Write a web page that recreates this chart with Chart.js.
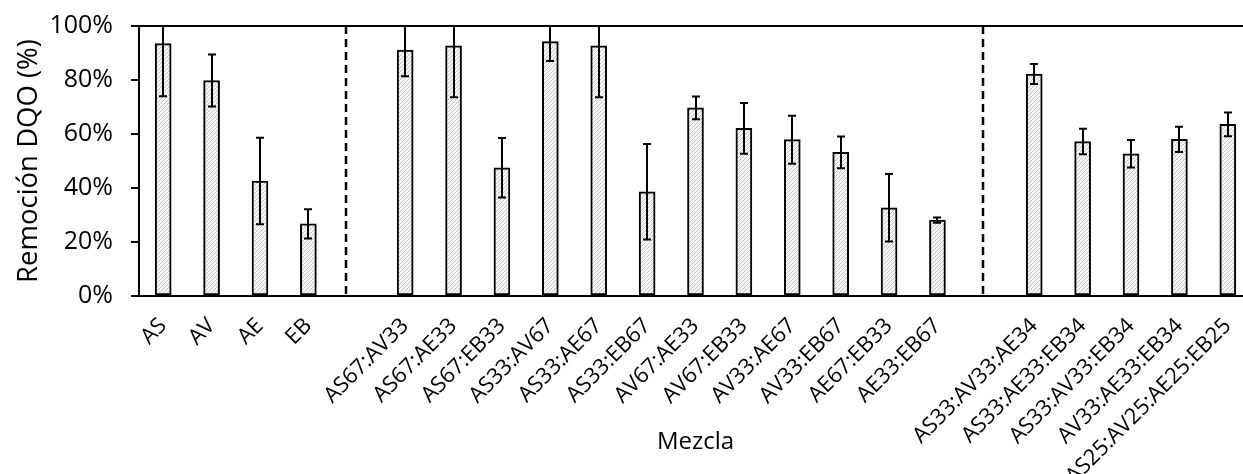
<!DOCTYPE html>
<html>
<head>
<meta charset="utf-8">
<script src="https://cdn.jsdelivr.net/npm/chart.js@4.4.1/dist/chart.umd.min.js"></script>
<style>
  html, body { margin: 0; padding: 0; background: #fff; overflow: hidden; }
  #wrap { width: 1243px; height: 474px; overflow: hidden; position: relative; }
  canvas { display: block; }
</style>
</head>
<body>
<div id="wrap"><canvas id="c" width="1262" height="474"></canvas></div>
<script>
// Mezclas (empty strings leave a gap between groups)
const mezclas = [
  'AS', 'AV', 'AE', 'EB', '',
  'AS67:AV33', 'AS67:AE33', 'AS67:EB33', 'AS33:AV67', 'AS33:AE67', 'AS33:EB67',
  'AV67:AE33', 'AV67:EB33', 'AV33:AE67', 'AV33:EB67', 'AE67:EB33', 'AE33:EB67', '',
  'AS33:AV33:AE34', 'AS33:AE33:EB34', 'AS33:AV33:EB34', 'AV33:AE33:EB34', 'AS25:AV25:AE25:EB25'
];

// Remoción DQO (%) per mezcla
const remocion = [
  93.5, 79.8, 42.6, 26.7, null,
  91.1, 92.7, 47.5, 94.2, 92.7, 38.6,
  69.7, 62.1, 57.9, 53.2, 32.7, 28.1, null,
  82.2, 57.2, 52.7, 58.0, 63.6
];

// Standard deviation (± %) per mezcla
const desviacion = [
  19.5, 9.6, 16.0, 5.4, null,
  9.7, 19.1, 11.0, 7.2, 19.1, 17.7,
  4.2, 9.4, 8.9, 5.9, 12.5, 1.0, null,
  3.7, 4.7, 5.1, 4.7, 4.4
];

// Group dividers, in category units
const divisiones = [3.78, 16.94];

const yTicks = [0, 20, 40, 60, 80, 100];

// Diagonal hatch fill for the bars
function hatch() {
  const s = 4;
  const p = document.createElement('canvas');
  p.width = s; p.height = s;
  const g = p.getContext('2d');
  g.fillStyle = '#f5f5f5';
  g.fillRect(0, 0, s, s);
  g.strokeStyle = '#c6c6c6';
  g.lineWidth = 1;
  g.beginPath();
  g.moveTo(0, s); g.lineTo(s, 0);
  g.moveTo(-1, 1); g.lineTo(1, -1);
  g.moveTo(s - 1, s + 1); g.lineTo(s + 1, s - 1);
  g.stroke();
  return document.getElementById('c').getContext('2d').createPattern(p, 'repeat');
}

const FONT = "'Open Sans', sans-serif";

const errorBars = {
  id: 'errorBars',
  afterDatasetsDraw(chart) {
    const { ctx, chartArea, scales: { y } } = chart;
    const meta = chart.getDatasetMeta(0);
    ctx.save();
    ctx.beginPath();
    ctx.rect(chartArea.left, chartArea.top - 1, chartArea.right - chartArea.left, chartArea.bottom - chartArea.top + 2);
    ctx.clip();
    ctx.strokeStyle = '#000';
    ctx.lineWidth = 2;
    const cap = 4;
    remocion.forEach((v, i) => {
      if (v == null) return;
      const e = desviacion[i];
      const x = Math.round(meta.data[i].x);
      const hi = v + e, lo = v - e;
      const yHi = y.getPixelForValue(Math.min(hi, 100));
      const yLo = y.getPixelForValue(lo);
      ctx.beginPath();
      ctx.moveTo(x, yHi); ctx.lineTo(x, yLo);
      if (hi <= 100) { ctx.moveTo(x - cap, yHi); ctx.lineTo(x + cap, yHi); }
      ctx.moveTo(x - cap, yLo); ctx.lineTo(x + cap, yLo);
      ctx.stroke();
    });
    ctx.restore();
  }
};

const dividers = {
  id: 'dividers',
  afterDatasetsDraw(chart) {
    const { ctx, chartArea, scales: { x } } = chart;
    ctx.save();
    ctx.strokeStyle = '#000';
    ctx.lineWidth = 2.5;
    ctx.setLineDash([8, 5]);
    divisiones.forEach(d => {
      const px = Math.round(x.getPixelForValue(d));
      ctx.beginPath();
      ctx.moveTo(px, chartArea.top);
      ctx.lineTo(px, chartArea.bottom);
      ctx.stroke();
    });
    ctx.restore();
  }
};

new Chart(document.getElementById('c'), {
  type: 'bar',
  data: {
    labels: mezclas,
    datasets: [{
      data: remocion,
      backgroundColor: hatch(),
      borderColor: '#000',
      borderWidth: 2,
      borderSkipped: false,
      barThickness: 16
    }]
  },
  options: {
    responsive: false,
    animation: false,
    devicePixelRatio: 1,
    layout: { padding: { left: 0, right: 10, top: 26, bottom: 0 } },
    plugins: { legend: { display: false }, tooltip: { enabled: false } },
    scales: {
      x: {
        offset: true,
        grid: { display: false, drawTicks: false },
        border: { display: true, color: '#000', width: 2 },
        ticks: {
          autoSkip: false,
          maxRotation: 45,
          minRotation: 45,
          padding: 17,
          color: '#000',
          font: { family: FONT, size: 22 }
        },
        title: {
          display: true,
          text: 'Mezcla',
          color: '#000',
          font: { family: FONT, size: 24 },
          padding: { top: 0, bottom: 17 }
        },
        afterFit(s) {
          s.height = 178;
          s.paddingLeft = 0;
          s.paddingRight = 0;
        }
      },
      y: {
        min: 0,
        max: 100,
        afterBuildTicks(s) { s.ticks = yTicks.map(v => ({ value: v })); },
        grid: {
          drawOnChartArea: true,
          color: ctx => (ctx.tick && ctx.tick.value === 100) ? '#000' : 'rgba(0,0,0,0)',
          lineWidth: 2,
          tickColor: '#000',
          tickLength: 8
        },
        border: { display: true, color: '#000', width: 2 },
        ticks: {
          color: '#000',
          padding: 18,
          font: { family: FONT, size: 25 },
          callback: v => v + '%'
        },
        title: {
          display: true,
          text: 'Remoción DQO (%)',
          color: '#000',
          font: { family: FONT, size: 27.5 },
          padding: { top: 13, bottom: 0 }
        },
        afterFit(s) {
          s.width = 139;
          s.paddingTop = 0;
          s.paddingBottom = 0;
        }
      }
    }
  },
  plugins: [errorBars, dividers]
});
</script>
</body>
</html>
